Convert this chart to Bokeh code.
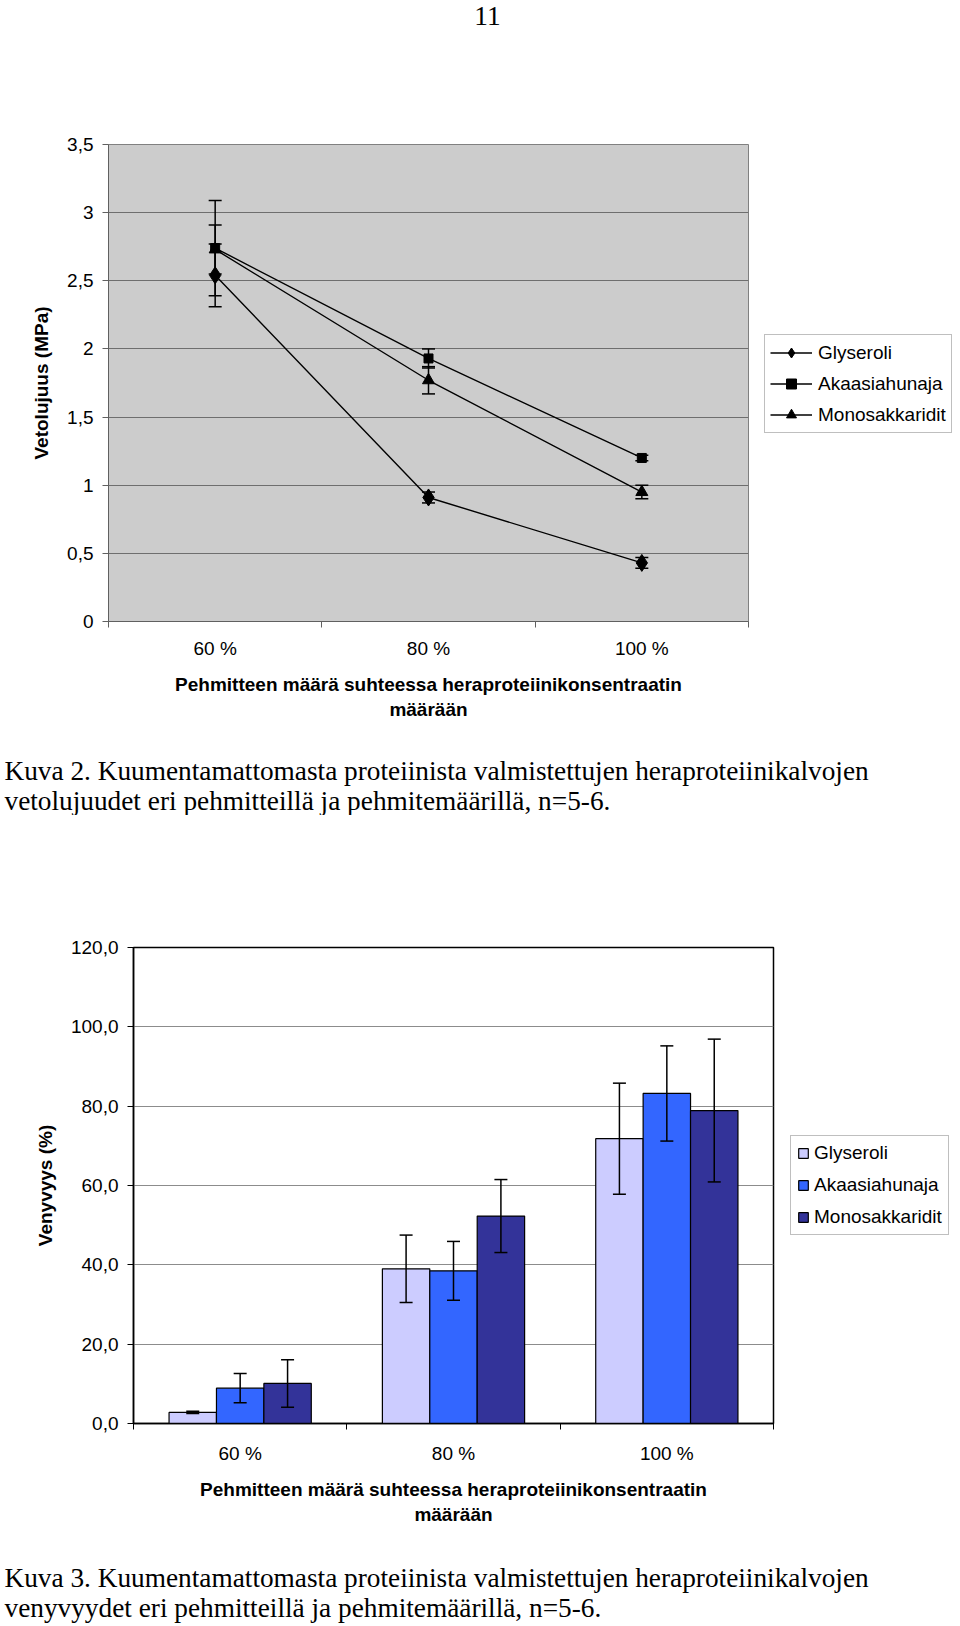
from bokeh.plotting import figure
from bokeh.models import (Range1d, FixedTicker, Label, Legend, LegendItem,
                          Whisker, TeeHead, ColumnDataSource)
from bokeh.layouts import row
from bokeh.embed import file_html
from bokeh.resources import INLINE

# ---------------- data ----------------
categories = ["60 %", "80 %", "100 %"]
series_names = ["Glyseroli", "Akaasiahunaja", "Monosakkaridit"]

# Kuva 2: vetolujuus (MPa)
tensile_glyseroli = [2.54, 0.91, 0.43]
tensile_glyseroli_err = [0.23, 0.04, 0.04]
tensile_akaasiahunaja = [2.74, 1.93, 1.20]
tensile_akaasiahunaja_err = [0.35, 0.07, 0.02]
tensile_monosakkaridit = [2.73, 1.77, 0.95]
tensile_monosakkaridit_err = [0.18, 0.10, 0.05]

# Kuva 3: venyvyys (%)
elong_glyseroli = [2.8, 39.0, 71.8]
elong_glyseroli_err = [0.3, 8.5, 14.0]
elong_akaasiahunaja = [8.9, 38.5, 83.2]
elong_akaasiahunaja_err = [3.7, 7.4, 12.0]
elong_monosakkaridit = [10.1, 52.3, 78.9]
elong_monosakkaridit_err = [6.0, 9.2, 18.0]

tensile_ticks = [0, 0.5, 1, 1.5, 2, 2.5, 3, 3.5]
tensile_tick_labels = ["0", "0,5", "1", "1,5", "2", "2,5", "3", "3,5"]
elong_ticks = [0, 20, 40, 60, 80, 100, 120]
elong_tick_labels = ["0,0", "20,0", "40,0", "60,0", "80,0", "100,0", "120,0"]

x_title = "Pehmitteen määrä suhteessa heraproteiinikonsentraatin\nmäärään"
caption2 = ["Kuva 2. Kuumentamattomasta proteiinista valmistettujen heraproteiinikalvojen",
            "vetolujuudet eri pehmitteillä ja pehmitemäärillä, n=5-6."]
caption3 = ["Kuva 3. Kuumentamattomasta proteiinista valmistettujen heraproteiinikalvojen",
            "venyvyydet eri pehmitteillä ja pehmitemäärillä, n=5-6."]
page_number = "11"

# ---------------- style ----------------
SANS = "Liberation Sans"
SERIF = "Liberation Serif"
W = 960
centers = [i + 0.5 for i in range(len(categories))]
cat_overrides = {c: lab for c, lab in zip(centers, categories)}


def bare_figure(width, height, top=0, bottom=0):
    f = figure(width=width, height=height, x_range=Range1d(0, 1), y_range=Range1d(0, 1),
               output_backend="svg", toolbar_location=None,
               x_axis_type=None, y_axis_type=None,
               min_border_left=0, min_border_right=0,
               min_border_top=top, min_border_bottom=bottom)
    f.outline_line_color = None
    f.background_fill_color = "white"
    f.border_fill_color = "white"
    return f


def text_strip(height, lines):
    """A figure without axes that only carries text lines: (text, x, y_from_top, align)."""
    f = bare_figure(W, height)
    f.x_range = Range1d(0, W)
    f.y_range = Range1d(0, height)
    for text, x, y, align in lines:
        f.add_layout(Label(x=x, y=height - y, text=text, text_font=SERIF,
                           text_font_size="27.3px", text_color="black",
                           text_baseline="middle", text_align=align))
    return f


def style_x_axis(p, axis_color, label_standoff, title_standoff):
    ax = p.xaxis[0]
    ax.ticker = FixedTicker(ticks=centers, minor_ticks=list(range(len(categories) + 1)))
    ax.major_label_overrides = cat_overrides
    ax.major_tick_line_color = None
    ax.major_tick_out = 0
    ax.major_tick_in = 0
    ax.minor_tick_out = 6
    ax.minor_tick_in = 0
    ax.minor_tick_line_color = axis_color
    ax.axis_line_color = axis_color
    ax.major_label_text_font = SANS
    ax.major_label_text_font_size = "19px"
    ax.major_label_text_color = "black"
    ax.major_label_standoff = label_standoff
    ax.axis_label = x_title
    ax.axis_label_text_font = SANS
    ax.axis_label_text_font_size = "19px"
    ax.axis_label_text_font_style = "bold"
    ax.axis_label_text_color = "black"
    ax.axis_label_standoff = title_standoff
    p.xgrid.visible = False


def style_y_axis(p, ticks, labels, title, axis_color, title_standoff):
    ax = p.yaxis[0]
    ax.ticker = FixedTicker(ticks=ticks)
    ax.major_label_overrides = {t: l for t, l in zip(ticks, labels)}
    ax.major_tick_out = 6
    ax.major_tick_in = 0
    ax.major_tick_line_color = axis_color
    ax.minor_tick_line_color = None
    ax.axis_line_color = axis_color
    ax.major_label_text_font = SANS
    ax.major_label_text_font_size = "19px"
    ax.major_label_text_color = "black"
    ax.major_label_standoff = 9
    ax.axis_label = title
    ax.axis_label_text_font = SANS
    ax.axis_label_text_font_size = "19px"
    ax.axis_label_text_font_style = "bold"
    ax.axis_label_text_color = "black"
    ax.axis_label_standoff = title_standoff


def make_legend(items, location, glyph_w, glyph_h, spacing, padding, standoff):
    return Legend(items=items, location=location, orientation="vertical",
                  label_text_font=SANS, label_text_font_size="19px", label_text_color="black",
                  glyph_width=glyph_w, glyph_height=glyph_h, label_height=20,
                  label_standoff=standoff, padding=padding, spacing=spacing, margin=0,
                  border_line_color="#808080", border_line_width=1,
                  background_fill_color="white", background_fill_alpha=1.0,
                  inactive_fill_alpha=0.0)


# ================= page number =================
top_strip = text_strip(30, [(page_number, 487, 15, "center")])

# ================= Kuva 2 (line chart) =================
P1_W, P1_H, P1_TOP, P1_BOTTOM = 750, 711, 114, 120
p1 = figure(width=P1_W, height=P1_H, x_range=Range1d(0, 3), y_range=Range1d(0, 3.5),
            output_backend="svg", toolbar_location=None,
            min_border_left=108, min_border_right=2, min_border_top=P1_TOP,
            min_border_bottom=P1_BOTTOM)
p1.background_fill_color = "#CCCCCC"
p1.border_fill_color = "white"
p1.outline_line_color = "#808080"
p1.outline_line_width = 1
p1.ygrid.grid_line_color = "#6E6E6E"
p1.ygrid.grid_line_width = 1
style_x_axis(p1, "#606060", 10, 12)
style_y_axis(p1, tensile_ticks, tensile_tick_labels, "Vetolujuus (MPa)", "#606060", 12)

t_vals = [tensile_glyseroli, tensile_akaasiahunaja, tensile_monosakkaridit]
t_errs = [tensile_glyseroli_err, tensile_akaasiahunaja_err, tensile_monosakkaridit_err]
markers = ["diamond", "square", "triangle"]
marker_sizes = [17, 9, 12]
for name, vals, errs, mk, ms in zip(series_names, t_vals, t_errs, markers, marker_sizes):
    src = ColumnDataSource(dict(x=centers, y=vals,
                                upper=[v + e for v, e in zip(vals, errs)],
                                lower=[v - e for v, e in zip(vals, errs)]))
    p1.add_layout(Whisker(source=src, base="x", upper="upper", lower="lower",
                          line_color="black", line_width=1.5,
                          upper_head=TeeHead(size=13, line_color="black", line_width=1.5),
                          lower_head=TeeHead(size=13, line_color="black", line_width=1.5)))
    p1.line("x", "y", source=src, line_color="black", line_width=1.4)
    p1.scatter("x", "y", source=src, marker=mk, size=ms,
               fill_color="black", line_color="black")

# legend panel to the right of the chart (same vertical borders -> same frame height);
# its renderers mirror the series styles but are hidden, only their legend swatches show
lf1 = bare_figure(W - P1_W, P1_H, P1_TOP, P1_BOTTOM)
items1 = []
for name, vals, mk, ms in zip(series_names, t_vals, markers, marker_sizes):
    lr = lf1.line(x=centers, y=vals, line_color="black", line_width=1.4, visible=False)
    sr = lf1.scatter(x=centers, y=vals, marker=mk, size=ms, fill_color="black",
                     line_color="black", visible=False)
    items1.append(LegendItem(label=name, renderers=[lr, sr]))
lf1.add_layout(make_legend(items1, (14, 188), 42, 25, 6, 5, 6))

cap1_strip = text_strip(74, [(caption2[0], 4, 29, "left"), (caption2[1], 4, 59, "left")])

# ================= Kuva 3 (bar chart) =================
P2_W, P2_H, P2_TOP, P2_BOTTOM = 775, 728, 132, 120
p2 = figure(width=P2_W, height=P2_H, x_range=Range1d(0, 3), y_range=Range1d(0, 120),
            output_backend="svg", toolbar_location=None,
            min_border_left=133, min_border_right=2, min_border_top=P2_TOP,
            min_border_bottom=P2_BOTTOM)
p2.background_fill_color = "white"
p2.border_fill_color = "white"
p2.outline_line_color = "black"
p2.outline_line_width = 1.5
p2.ygrid.grid_line_color = "#8C8C8C"
p2.ygrid.grid_line_width = 1
style_x_axis(p2, "black", 13, 12)
style_y_axis(p2, elong_ticks, elong_tick_labels, "Venyvyys (%)", "black", 12)
p2.xaxis[0].axis_line_width = 1.5
p2.yaxis[0].axis_line_width = 1.5

e_vals = [elong_glyseroli, elong_akaasiahunaja, elong_monosakkaridit]
e_errs = [elong_glyseroli_err, elong_akaasiahunaja_err, elong_monosakkaridit_err]
bar_colors = ["#CCCCFF", "#3366FF", "#333399"]
bar_w = 1 / 4.5
offsets = [-bar_w, 0.0, bar_w]
for name, vals, errs, col, off in zip(series_names, e_vals, e_errs, bar_colors, offsets):
    src = ColumnDataSource(dict(x=[c + off for c in centers], top=vals,
                                upper=[v + e for v, e in zip(vals, errs)],
                                lower=[v - e for v, e in zip(vals, errs)]))
    p2.vbar(x="x", top="top", bottom=0, width=bar_w, source=src,
            fill_color=col, line_color="black", line_width=1.2)
    p2.add_layout(Whisker(source=src, base="x", upper="upper", lower="lower",
                          line_color="black", line_width=1.5, level="overlay",
                          upper_head=TeeHead(size=13, line_color="black", line_width=1.5),
                          lower_head=TeeHead(size=13, line_color="black", line_width=1.5)))

lf2 = bare_figure(W - P2_W, P2_H, P2_TOP, P2_BOTTOM)
items2 = []
for name, vals, col, off in zip(series_names, e_vals, bar_colors, offsets):
    r = lf2.vbar(x=[c + off for c in centers], top=vals, width=bar_w, fill_color=col,
                 line_color="black", line_width=1.2, visible=False)
    items2.append(LegendItem(label=name, renderers=[r]))
lf2.add_layout(make_legend(items2, (15, 188), 12, 12, 10, 6, 5))

cap2_strip = text_strip(83, [(caption3[0], 4, 34, "left"), (caption3[1], 4, 64, "left")])

roots = [top_strip, row(p1, lf1, spacing=0), cap1_strip, row(p2, lf2, spacing=0), cap2_strip]
open("out.html", "w").write(file_html(roots, INLINE))
